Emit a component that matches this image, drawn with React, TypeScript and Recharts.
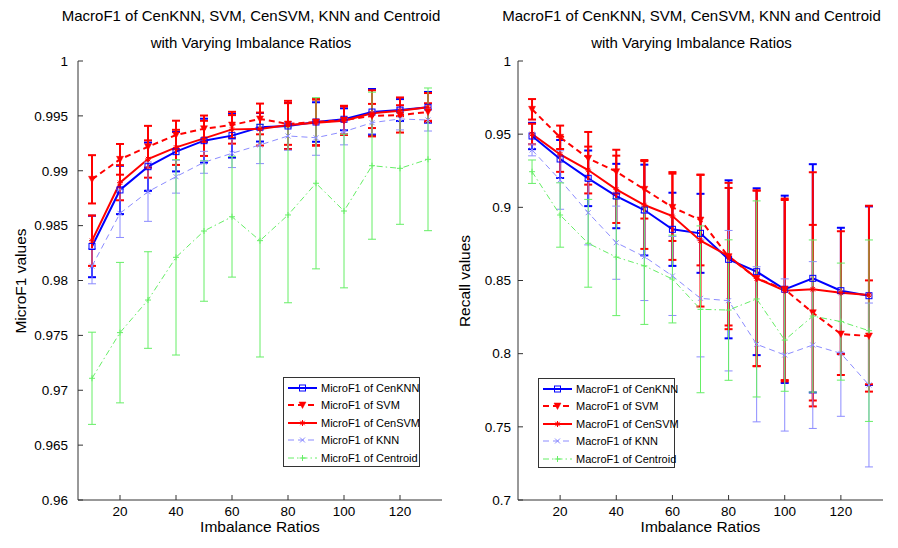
import React from 'react';
import { LineChart, Line, XAxis, YAxis, ErrorBar, Legend } from 'recharts';

const ratios = [10, 20, 30, 40, 50, 60, 70, 80, 90, 100, 110, 120, 130];
const xTicks = [20, 40, 60, 80, 100, 120];
const microTicks = [0.96, 0.965, 0.97, 0.975, 0.98, 0.985, 0.99, 0.995, 1];
const macroTicks = [0.7, 0.75, 0.8, 0.85, 0.9, 0.95, 1];

const titleLine1 = 'MacroF1 of CenKNN, SVM, CenSVM, KNN and Centroid';
const titleLine2 = 'with Varying Imbalance Ratios';

// Left panel: MicroF1
const cenKnnMicro = [0.9831, 0.98825, 0.99037, 0.99174, 0.99274, 0.9932, 0.99396, 0.99408, 0.99444, 0.99469, 0.99535, 0.99553, 0.99578];
const cenKnnMicroErr = [0.0028, 0.0022, 0.0022, 0.0018, 0.002, 0.002, 0.0013, 0.0021, 0.0018, 0.001, 0.0021, 0.001, 0.0014];
const svmMicro = [0.98922, 0.99104, 0.99219, 0.99326, 0.99383, 0.99417, 0.99472, 0.99426, 0.99444, 0.99462, 0.99499, 0.99508, 0.99535];
const svmMicroErr = [0.0022, 0.0014, 0.0019, 0.0013, 0.0012, 0.0012, 0.0014, 0.0019, 0.0021, 0.0013, 0.0011, 0.0016, 0.0008];
const cenSvmMicro = [0.98363, 0.98891, 0.99107, 0.99213, 0.99295, 0.99377, 0.9938, 0.99417, 0.99438, 0.99456, 0.99523, 0.99547, 0.99578];
const cenSvmMicroErr = [0.0023, 0.0016, 0.0017, 0.0016, 0.0016, 0.0013, 0.0015, 0.0022, 0.0021, 0.0013, 0.0021, 0.0005, 0.0013];
const knnMicro = [0.9813, 0.98612, 0.98809, 0.98946, 0.99077, 0.99159, 0.99235, 0.99317, 0.99301, 0.99356, 0.99438, 0.99472, 0.99462];
const knnMicroErr = [0.0016, 0.0022, 0.0027, 0.0015, 0.001, 0.0013, 0.0017, 0.0013, 0.0016, 0.0012, 0.001, 0.001, 0.001];
const centroidMicro = [0.97109, 0.97525, 0.97822, 0.98211, 0.98451, 0.98581, 0.98363, 0.98597, 0.98886, 0.98633, 0.99046, 0.99022, 0.99104];
const centroidMicroErr = [0.0042, 0.0064, 0.0044, 0.0089, 0.0064, 0.0055, 0.0106, 0.008, 0.0078, 0.007, 0.0067, 0.0051, 0.0065];

// Right panel: MacroF1 (Recall values)
const cenKnnMacro = [0.94875, 0.93303, 0.91983, 0.90773, 0.89816, 0.88498, 0.88224, 0.86448, 0.85602, 0.84398, 0.85148, 0.84303, 0.83961];
const cenKnnMacroErr = [0.009, 0.013, 0.019, 0.022, 0.031, 0.025, 0.027, 0.054, 0.057, 0.064, 0.078, 0.043, 0.061];
const svmMacro = [0.96699, 0.94786, 0.93351, 0.92435, 0.91232, 0.90002, 0.89134, 0.86626, 0.85148, 0.84398, 0.828, 0.81344, 0.81207];
const svmMacroErr = [0.007, 0.008, 0.018, 0.015, 0.02, 0.023, 0.031, 0.047, 0.06, 0.062, 0.06, 0.028, 0.038];
const cenSvmMacro = [0.95011, 0.93624, 0.92551, 0.91232, 0.90159, 0.89408, 0.8772, 0.86674, 0.85148, 0.84303, 0.84398, 0.84166, 0.84009];
const cenSvmMacroErr = [0.007, 0.012, 0.016, 0.023, 0.03, 0.03, 0.045, 0.05, 0.06, 0.062, 0.08, 0.042, 0.061];
const knnMacro = [0.93918, 0.91868, 0.89635, 0.87584, 0.8663, 0.8531, 0.8378, 0.8362, 0.8064, 0.7991, 0.8059, 0.8002, 0.7786];
const knnMacroErr = [0.004, 0.02, 0.022, 0.025, 0.03, 0.027, 0.04, 0.048, 0.053, 0.052, 0.057, 0.043, 0.056];
const centroidMacro = [0.92435, 0.89476, 0.87542, 0.866, 0.86, 0.851, 0.8303, 0.8298, 0.8374, 0.8093, 0.8257, 0.8219, 0.8157];
const centroidMacroErr = [0.008, 0.022, 0.03, 0.04, 0.04, 0.03, 0.057, 0.048, 0.067, 0.035, 0.052, 0.04, 0.062];

type Marker = 'square' | 'tri' | 'star' | 'x' | 'plus';
interface SeriesStyle {
  key: string;
  name: string;
  color: string;
  width: number;
  dash?: string;
  marker: Marker;
  errWidth: number;
}

const seriesStyles: SeriesStyle[] = [
  { key: 'cenKnn', name: 'CenKNN', color: '#0000ff', width: 2, marker: 'square', errWidth: 2 },
  { key: 'svm', name: 'SVM', color: '#ff0000', width: 2, dash: '6 4', marker: 'tri', errWidth: 2 },
  { key: 'cenSvm', name: 'CenSVM', color: '#ff0000', width: 2, marker: 'star', errWidth: 2 },
  { key: 'knn', name: 'KNN', color: '#8c8cff', width: 1, dash: '6 4', marker: 'x', errWidth: 1 },
  { key: 'centroid', name: 'Centroid', color: '#66ee66', width: 1, dash: '6 3 1.5 3', marker: 'plus', errWidth: 1 },
];

function buildRows(series: Record<string, number[]>) {
  return ratios.map((r, i) => {
    const row: Record<string, number> = { ratio: r };
    Object.keys(series).forEach((k) => {
      row[k] = series[k][i];
    });
    return row;
  });
}

const microRows = buildRows({
  cenKnn: cenKnnMicro, cenKnnErr: cenKnnMicroErr,
  svm: svmMicro, svmErr: svmMicroErr,
  cenSvm: cenSvmMicro, cenSvmErr: cenSvmMicroErr,
  knn: knnMicro, knnErr: knnMicroErr,
  centroid: centroidMicro, centroidErr: centroidMicroErr,
});

const macroRows = buildRows({
  cenKnn: cenKnnMacro, cenKnnErr: cenKnnMacroErr,
  svm: svmMacro, svmErr: svmMacroErr,
  cenSvm: cenSvmMacro, cenSvmErr: cenSvmMacroErr,
  knn: knnMacro, knnErr: knnMacroErr,
  centroid: centroidMacro, centroidErr: centroidMacroErr,
});

function MarkerShape({ type, cx, cy, color }: { type: Marker; cx: number; cy: number; color: string }) {
  if (type === 'square') {
    return <rect x={cx - 3} y={cy - 3} width={6} height={6} fill="none" stroke={color} strokeWidth={1} />;
  }
  if (type === 'tri') {
    return <path d={`M${cx - 3.5},${cy - 3} L${cx + 3.5},${cy - 3} L${cx},${cy + 3.5} Z`} fill={color} stroke={color} strokeWidth={0.5} />;
  }
  if (type === 'star') {
    return (
      <g stroke={color} strokeWidth={1}>
        <line x1={cx - 3} y1={cy} x2={cx + 3} y2={cy} />
        <line x1={cx} y1={cy - 3} x2={cx} y2={cy + 3} />
        <line x1={cx - 2.2} y1={cy - 2.2} x2={cx + 2.2} y2={cy + 2.2} />
        <line x1={cx - 2.2} y1={cy + 2.2} x2={cx + 2.2} y2={cy - 2.2} />
      </g>
    );
  }
  if (type === 'x') {
    return (
      <g stroke={color} strokeWidth={1}>
        <line x1={cx - 2.5} y1={cy - 2.5} x2={cx + 2.5} y2={cy + 2.5} />
        <line x1={cx - 2.5} y1={cy + 2.5} x2={cx + 2.5} y2={cy - 2.5} />
      </g>
    );
  }
  return (
    <g stroke={color} strokeWidth={1}>
      <line x1={cx - 3} y1={cy} x2={cx + 3} y2={cy} />
      <line x1={cx} y1={cy - 3} x2={cx} y2={cy + 3} />
    </g>
  );
}

const FONT = '"Liberation Sans", Arial, Helvetica, sans-serif';
const AXIS_COLOR = '#333333';

function LegendBox({ prefix }: { prefix: string }) {
  return (
    <div
      style={{
        border: `1px solid ${AXIS_COLOR}`,
        background: '#fff',
        width: 137,
        height: 90,
        boxSizing: 'border-box',
        paddingTop: 1,
        fontFamily: FONT,
        fontSize: 11,
        color: '#000',
      }}
    >
      {seriesStyles.map((s) => (
        <div key={s.key} style={{ height: 17.5, display: 'flex', alignItems: 'center' }}>
          <svg width={36} height={12} style={{ flex: 'none' }}>
            <line x1={4} y1={6} x2={33} y2={6} stroke={s.color} strokeWidth={s.width} strokeDasharray={s.dash} />
            <MarkerShape type={s.marker} cx={18.5} cy={6} color={s.color} />
          </svg>
          <span style={{ marginLeft: 1, whiteSpace: 'nowrap' }}>{`${prefix} of ${s.name}`}</span>
        </div>
      ))}
    </div>
  );
}

interface PanelProps {
  left: number;
  yAxisWidth: number;
  rightMargin: number;
  rows: Record<string, number>[];
  yDomain: [number, number];
  yTicks: number[];
  prefix: string;
  yLabel: string;
  legendLeft: number;
  legendTop: number;
  yLabelX: number;
  yTickMargin: number;
}

function Panel(p: PanelProps) {
  const plotLeft = p.yAxisWidth;
  const plotRight = 449 - p.rightMargin;
  const plotCenter = (plotLeft + plotRight) / 2;
  const titleCenter = plotCenter - 9;
  const tickStyle = { fontFamily: FONT, fontSize: 13.5, fill: '#000' };
  return (
    <div style={{ position: 'absolute', left: p.left, top: 0, width: 449, height: 548 }}>
      <LineChart
        width={449}
        height={548}
        data={p.rows}
        margin={{ top: 61, right: p.rightMargin, bottom: 0, left: 0 }}
      >
        <XAxis
          dataKey="ratio"
          type="number"
          domain={[5, 135]}
          ticks={xTicks}
          allowDataOverflow
          height={48}
          tickSize={-5}
          tickMargin={11}
          stroke={AXIS_COLOR}
          tick={tickStyle}
        />
        <XAxis
          xAxisId="top"
          orientation="top"
          dataKey="ratio"
          type="number"
          domain={[5, 135]}
          ticks={xTicks}
          allowDataOverflow
          height={0}
          tickSize={-5}
          tick={false}
          stroke={AXIS_COLOR}
        />
        <YAxis
          type="number"
          domain={p.yDomain}
          ticks={p.yTicks}
          allowDataOverflow
          width={p.yAxisWidth}
          tickSize={-5}
          tickMargin={p.yTickMargin}
          stroke={AXIS_COLOR}
          tick={tickStyle}
          tickFormatter={(v: number) => String(v)}
        />
        <YAxis
          yAxisId="right"
          orientation="right"
          type="number"
          domain={p.yDomain}
          ticks={p.yTicks}
          allowDataOverflow
          width={0}
          tickSize={-5}
          tick={false}
          stroke={AXIS_COLOR}
        />
        {seriesStyles.map((s) => (
          <Line
            key={s.key}
            dataKey={s.key}
            type="linear"
            stroke={s.color}
            strokeWidth={s.width}
            strokeDasharray={s.dash}
            isAnimationActive={false}
            dot={(d: any) => <MarkerShape key={`${s.key}-${d.index}`} type={s.marker} cx={d.cx} cy={d.cy} color={s.color} />}
            activeDot={false}
          >
            <ErrorBar
              dataKey={`${s.key}Err`}
              direction="y"
              width={4}
              stroke={s.color}
              strokeWidth={s.errWidth}
              isAnimationActive={false}
            />
          </Line>
        ))}
        <Legend
          layout="horizontal"
          verticalAlign="middle"
          align="center"
          wrapperStyle={{ position: 'absolute', left: p.legendLeft, top: p.legendTop, width: 137, height: 90 }}
          content={() => <LegendBox prefix={p.prefix} />}
        />
      </LineChart>
      <div
        style={{
          position: 'absolute',
          left: titleCenter - 220,
          width: 440,
          top: 2,
          textAlign: 'center',
          fontFamily: FONT,
          fontSize: 15,
          lineHeight: '27px',
          color: '#000',
          whiteSpace: 'nowrap',
        }}
      >
        <div>{titleLine1}</div>
        <div>{titleLine2}</div>
      </div>
      <div
        style={{
          position: 'absolute',
          left: plotCenter - 100,
          width: 200,
          top: 517,
          height: 20,
          lineHeight: '20px',
          textAlign: 'center',
          fontFamily: FONT,
          fontSize: 15.5,
          color: '#000',
        }}
      >
        Imbalance Ratios
      </div>
      <div
        style={{
          position: 'absolute',
          left: p.yLabelX,
          top: 281,
          transform: 'translate(-50%, -50%) rotate(-90deg)',
          fontFamily: FONT,
          fontSize: 15.5,
          color: '#000',
          whiteSpace: 'nowrap',
        }}
      >
        {p.yLabel}
      </div>
    </div>
  );
}

export default function App() {
  return (
    <div style={{ position: 'absolute', left: 0, top: 0, width: 898, height: 548, background: '#fff', overflow: 'hidden' }}>
      <Panel
        left={0}
        yAxisWidth={78}
        rightMargin={7}
        rows={microRows}
        yDomain={[0.96, 1]}
        yTicks={microTicks}
        prefix="MicroF1"
        yLabel="MicroF1 values"
        legendLeft={283}
        legendTop={377}
        yLabelX={21}
        yTickMargin={15}
      />
      <Panel
        left={449}
        yAxisWidth={69}
        rightMargin={15}
        rows={macroRows}
        yDomain={[0.7, 1]}
        yTicks={macroTicks}
        prefix="MacroF1"
        yLabel="Recall values"
        legendLeft={89}
        legendTop={378}
        yLabelX={16}
        yTickMargin={12}
      />
    </div>
  );
}
